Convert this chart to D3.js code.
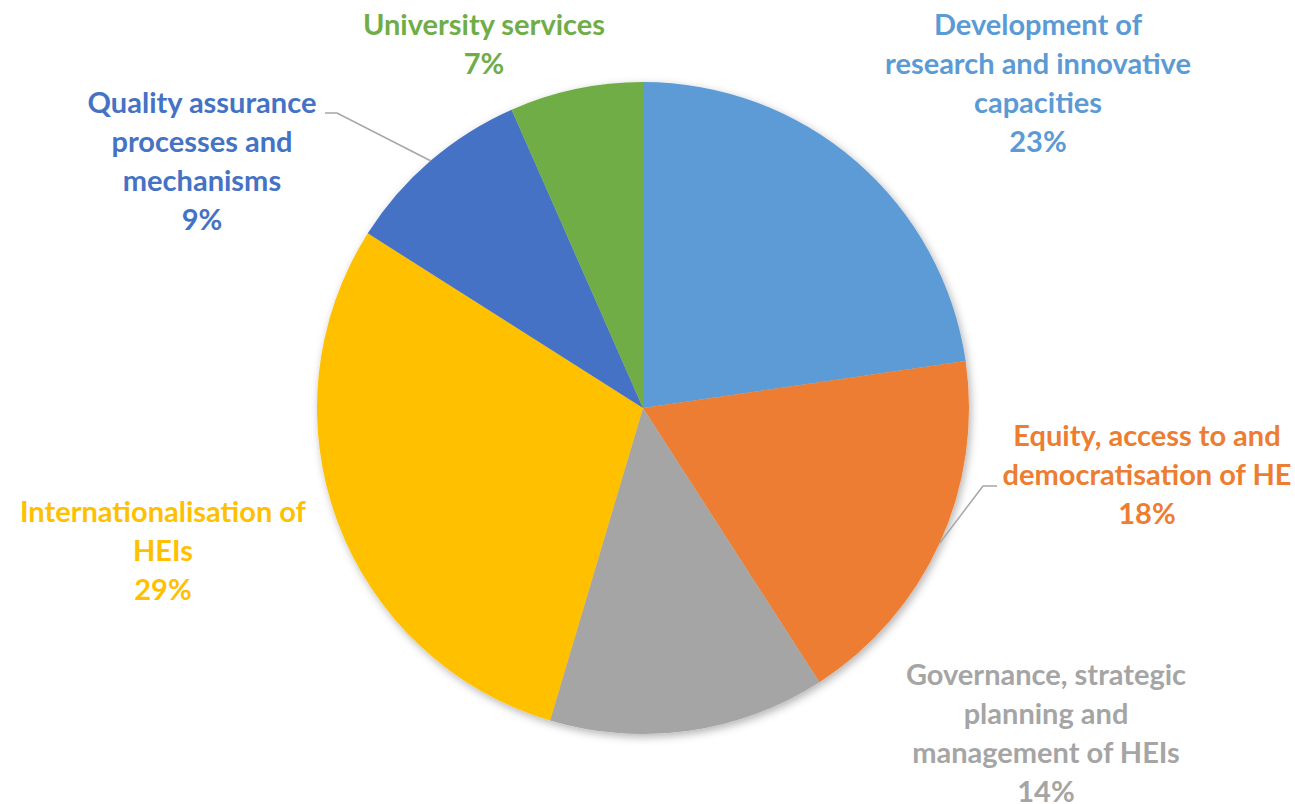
<!DOCTYPE html>
<html>
<head>
<meta charset="utf-8">
<script src="https://cdn.jsdelivr.net/npm/d3@7"></script>
<style>
  html, body { margin: 0; padding: 0; background: #fff; }
  svg { display: block; }
  .slice-label { font-family: Lato, "Open Sans", sans-serif; font-weight: bold; }
</style>
</head>
<body>
<div id="chart"></div>
<script>
// categories, clockwise from 12 o'clock
const categories = [
  "Development of research and innovative capacities",
  "Equity, access to and democratisation of HE",
  "Governance, strategic planning and management of HEIs",
  "Internationalisation of HEIs",
  "Quality assurance processes and mechanisms",
  "University services",
];
// share of projects (%)
const shares = [22.7, 18.2, 13.7, 29.4, 9.4, 6.6];
// label text broken into lines as in the picture
const labelLines = [
  ["Development of", "research and innovative", "capacities"],
  ["Equity, access to and", "democratisation of HE"],
  ["Governance, strategic", "planning and", "management of HEIs"],
  ["Internationalisation of", "HEIs"],
  ["Quality assurance", "processes and", "mechanisms"],
  ["University services"],
];
const colors = ["#5B9BD5", "#ED7D31", "#A5A5A5", "#FFC000", "#4472C4", "#70AD47"];

// label layout: centre x, first baseline y, and optional leader elbow
const labelLayout = [
  { x: 1038, y: 35 },
  { x: 1147, y: 446, elbow: [983, 486], end: 997 },
  { x: 1046, y: 685 },
  { x: 163, y: 522 },
  { x: 202, y: 113, elbow: [337, 113], end: 325 },
  { x: 484, y: 35 },
];

const width = 1295, height = 804;
const cx = 643, cy = 408, radius = 326;
const lineHeight = 39;

const svg = d3.select("#chart").append("svg")
  .attr("width", width)
  .attr("height", height);

const defs = svg.append("defs");
const shadow = defs.append("filter")
  .attr("id", "shadow")
  .attr("x", "-10%").attr("y", "-10%")
  .attr("width", "120%").attr("height", "120%");
shadow.append("feDropShadow")
  .attr("dx", 2).attr("dy", 3)
  .attr("stdDeviation", 4)
  .attr("flood-color", "#000")
  .attr("flood-opacity", 0.3);

const data = categories.map((c, i) => ({ name: c, value: shares[i], i: i }));

const pie = d3.pie().sort(null).value(d => d.value);
const arcs = pie(data);
const arc = d3.arc().innerRadius(0).outerRadius(radius);

const pieGroup = svg.append("g")
  .attr("transform", `translate(${cx},${cy})`);

pieGroup.append("g")
  .attr("filter", "url(#shadow)")
  .selectAll("path")
  .data(arcs)
  .join("path")
  .attr("d", arc)
  .attr("fill", d => colors[d.data.i]);

const total = d3.sum(shares);

// leader lines: from slice mid-angle on the rim to the elbow
arcs.forEach(d => {
  const lay = labelLayout[d.data.i];
  if (!lay.elbow) return;
  const mid = (d.startAngle + d.endAngle) / 2;
  const px = cx + radius * Math.sin(mid);
  const py = cy - radius * Math.cos(mid);
  svg.append("polyline")
    .attr("points", [[px, py], lay.elbow, [lay.end, lay.elbow[1]]].map(p => p.join(",")).join(" "))
    .attr("fill", "none")
    .attr("stroke", "#A6A6A6")
    .attr("stroke-width", 1.5);
});

// labels
const labels = svg.append("g").selectAll("text")
  .data(arcs)
  .join("text")
  .attr("class", "slice-label")
  .attr("text-anchor", "middle")
  .attr("font-size", 29)
  .attr("fill", d => colors[d.data.i]);

labels.each(function (d) {
  const lay = labelLayout[d.data.i];
  const lines = labelLines[d.data.i].concat([Math.round(d.data.value / total * 100) + "%"]);
  const t = d3.select(this);
  lines.forEach((ln, k) => {
    t.append("tspan")
      .attr("x", lay.x)
      .attr("y", lay.y + k * lineHeight)
      .text(ln);
  });
});
</script>
</body>
</html>
